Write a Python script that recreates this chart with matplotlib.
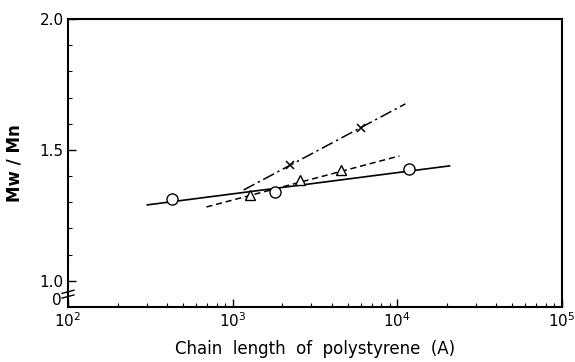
import matplotlib
matplotlib.use("Agg")
import matplotlib.pyplot as plt
from matplotlib.ticker import FixedLocator, NullFormatter, LogLocator, FixedFormatter
import numpy as np

# data
circle_x = [431, 1800, 11700]
circle_y = [1.313, 1.340, 1.427]
solid_x = [303, 20750]
solid_y = [1.290, 1.439]

tri_x = [1270, 2560, 4560]
tri_y = [1.328, 1.385, 1.424]
dash_x = [693, 10300]
dash_y = [1.282, 1.477]

cross_x = [2230, 6020]
cross_y = [1.443, 1.584]
dashdot_x = [1166, 11200]
dashdot_y = [1.347, 1.676]

xticks = [1e2, 1e3, 1e4, 1e5]
xticklabels = [r"$10^2$", r"$10^3$", r"$10^4$", r"$10^5$"]
yticks = [1.0, 1.5, 2.0]
yticklabels = ["1.0", "1.5", "2.0"]

plt.rcParams['font.family'] = ['DejaVu Sans']
plt.rcParams['mathtext.fontset'] = 'dejavusans'

fig = plt.figure(figsize=(5.75, 3.62), dpi=100)
ax = fig.add_axes([68/575, (362-307)/362, (562-68)/575, (307-19)/362])

ax.plot(solid_x, solid_y, color='black', lw=1.2, ls='-')
ax.plot(dash_x, dash_y, color='black', lw=1.1, ls=(0, (4, 2.5)))
ax.plot(dashdot_x, dashdot_y, color='black', lw=1.1, ls=(0, (8, 2.5, 1.5, 2.5)))

ax.plot(circle_x, circle_y, 'o', ms=8, mfc='white', mec='black', mew=1.0)
ax.plot(tri_x, tri_y, '^', ms=7, mfc='white', mec='black', mew=1.0)
ax.plot(cross_x, cross_y, 'x', ms=6, color='black', mew=1.1)

ax.set_xscale('log')
ax.set_xlim(1e2, 1e5)
ax.set_ylim(0.9, 2.0)

ax.xaxis.set_major_locator(FixedLocator(xticks))
ax.xaxis.set_major_formatter(FixedFormatter(xticklabels))
ax.xaxis.set_minor_locator(LogLocator(base=10, subs=np.arange(2, 10)))
ax.xaxis.set_minor_formatter(NullFormatter())

ax.yaxis.set_major_locator(FixedLocator(yticks))
ax.yaxis.set_major_formatter(FixedFormatter(yticklabels))
ax.yaxis.set_minor_locator(FixedLocator([1.1, 1.2, 1.3, 1.4, 1.6, 1.7, 1.8, 1.9]))

ax.tick_params(axis='both', which='both', direction='in', top=False, right=False)
ax.tick_params(axis='both', which='major', length=6, width=1, labelsize=11)
ax.tick_params(axis='both', which='minor', length=3, width=0.8)
ax.tick_params(axis='x', which='major', pad=3)
ax.tick_params(axis='y', which='major', pad=3)

for s in ax.spines.values():
    s.set_linewidth(1.5)

# broken-axis "0" label and break marks on left spine
ax.text(-0.012, 0.925, "0", transform=ax.get_yaxis_transform(),
        ha='right', va='center', fontsize=11)
bx = [-0.012, 0.012]
for yb in [0.940, 0.958]:
    ax.plot(bx, [yb - 0.006, yb + 0.006], transform=ax.get_yaxis_transform(),
            color='black', lw=1.0, clip_on=False)

ax.set_ylabel("Mw / Mn", fontsize=12, fontweight='bold', labelpad=12)
ax.set_xlabel("Chain  length  of  polystyrene  (A)", fontsize=12, labelpad=7)

fig.savefig("out.png", dpi=100)
